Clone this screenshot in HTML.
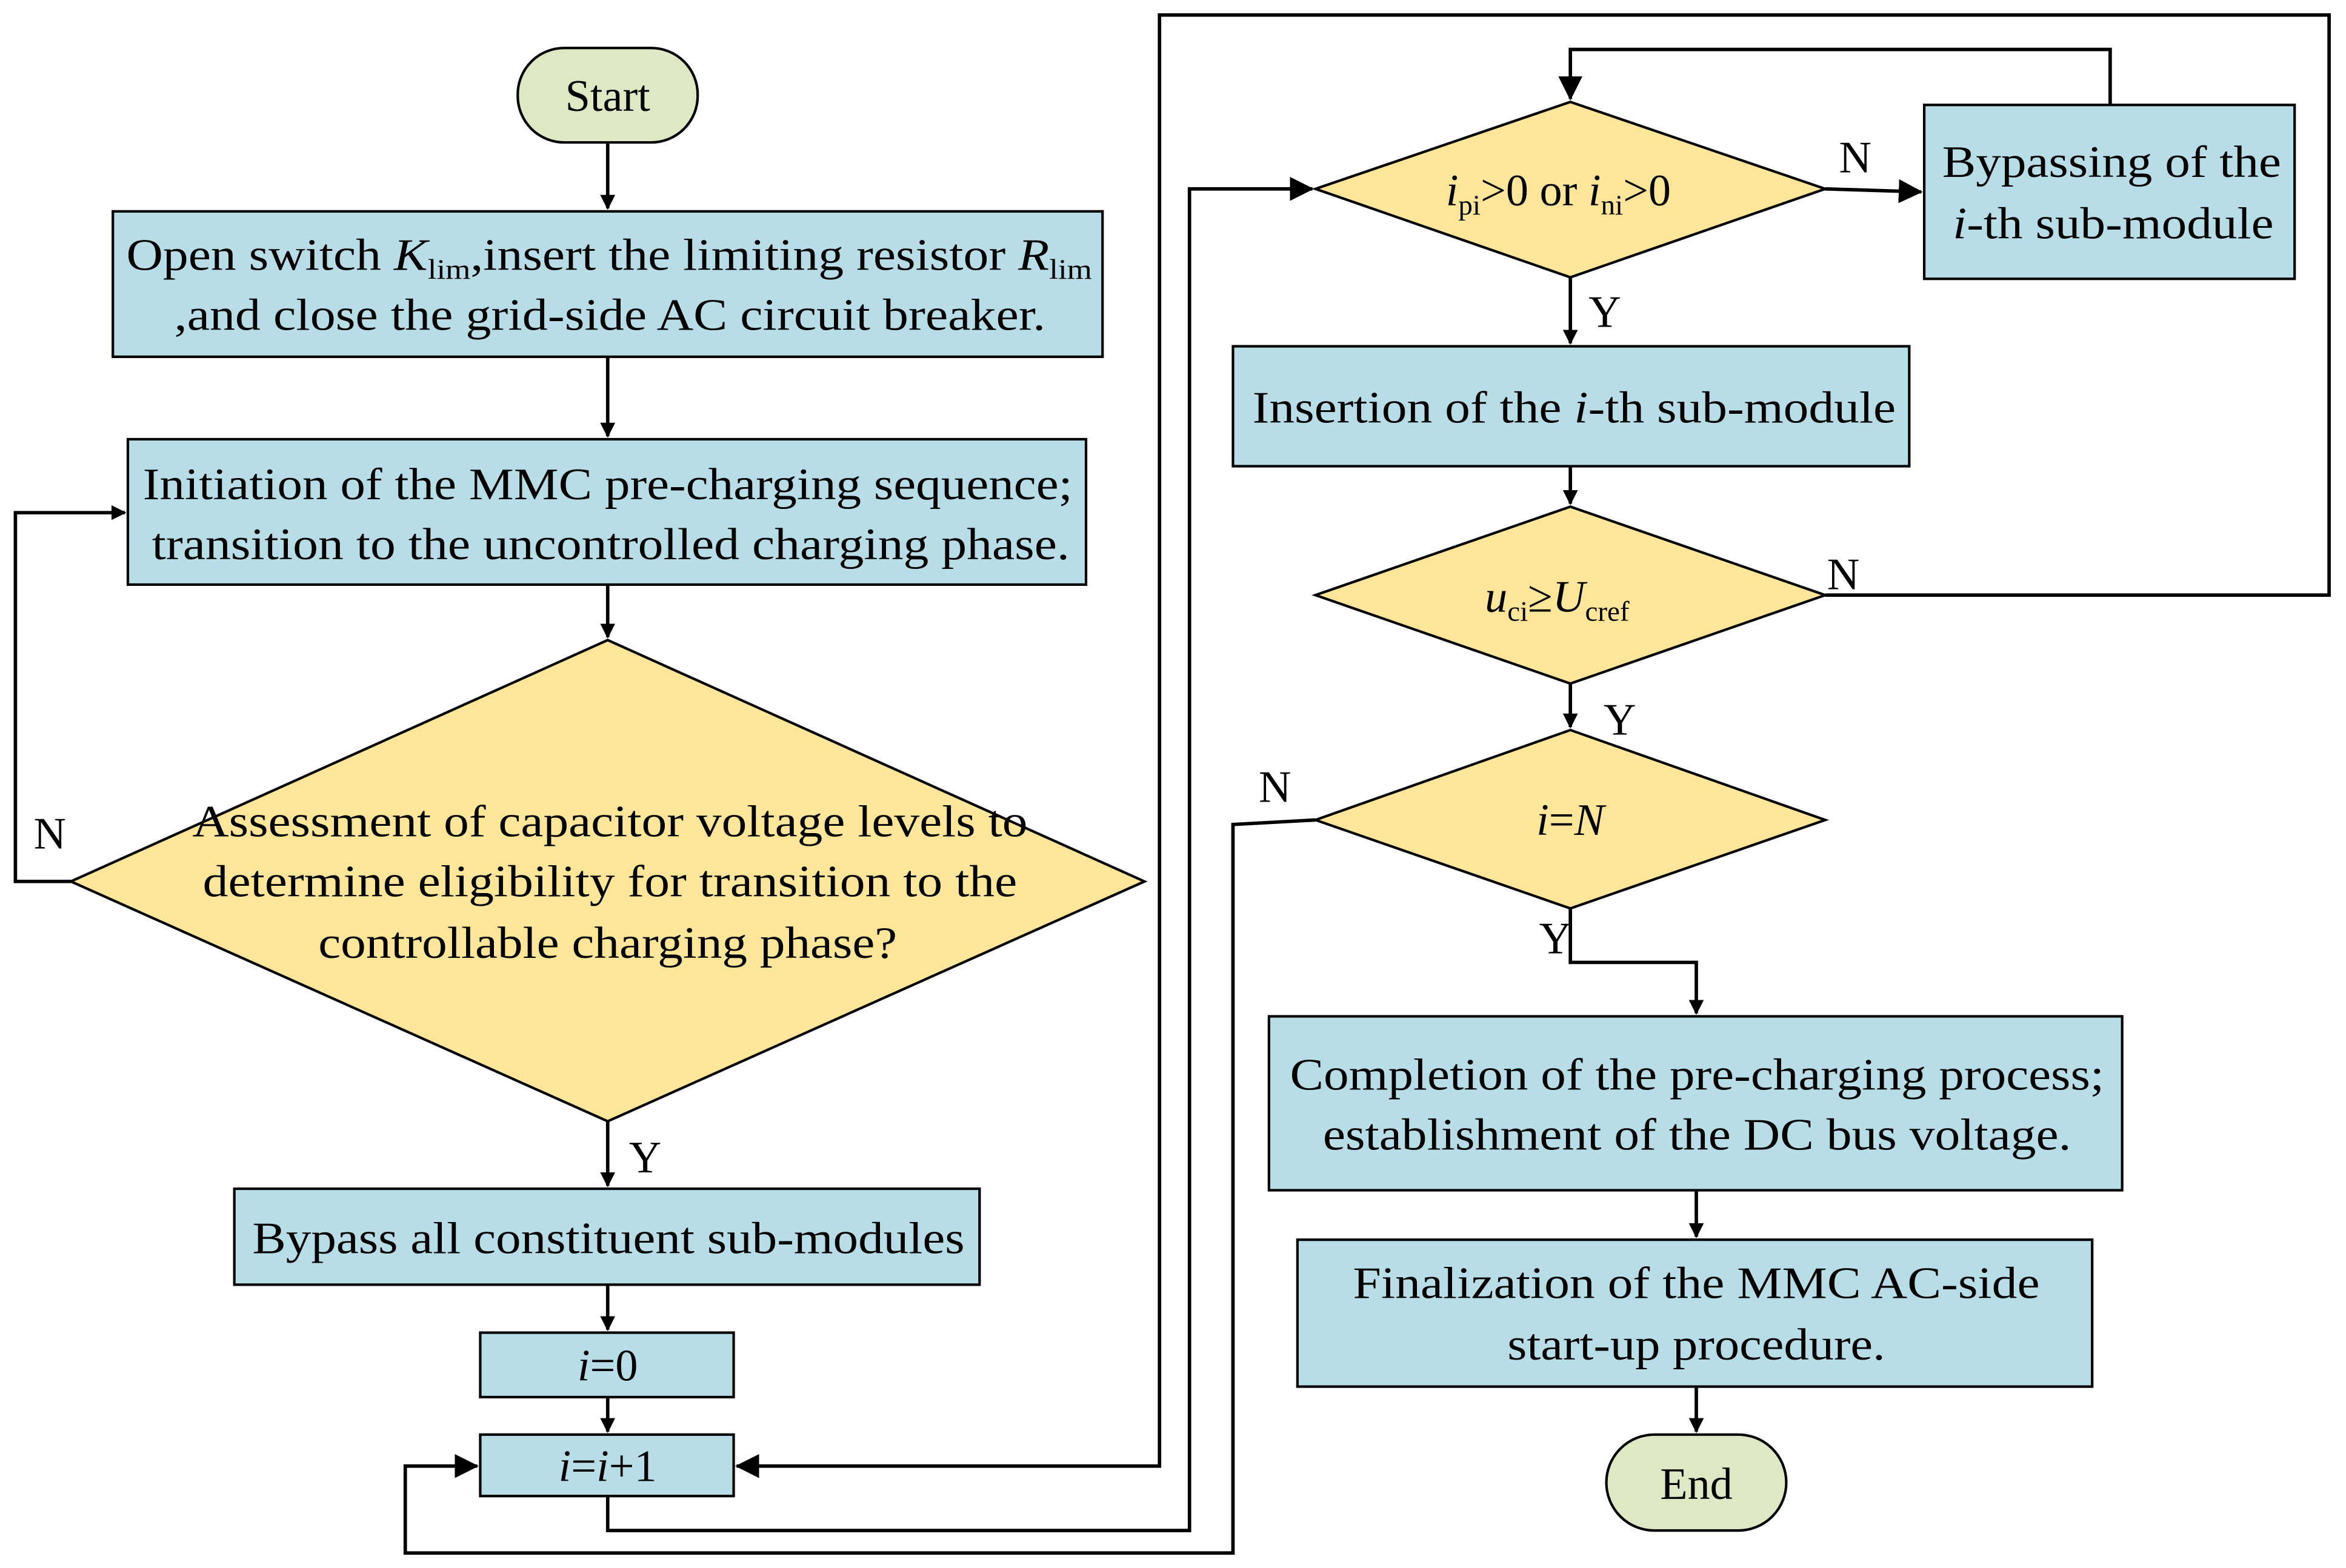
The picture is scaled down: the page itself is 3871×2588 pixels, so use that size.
<!DOCTYPE html>
<html><head><meta charset="utf-8"><style>html,body{margin:0;padding:0;background:#fff}svg{display:block}</style></head>
<body>
<svg width="3871" height="2588" viewBox="0 0 1564 1046" xmlns="http://www.w3.org/2000/svg" font-family="Liberation Serif, serif" font-size="30">
<defs><marker id="a" markerWidth="10" markerHeight="10" refX="9" refY="5" orient="auto" markerUnits="userSpaceOnUse" viewBox="0 0 10 10"><path d="M0,0 L10,5 L0,10 z" fill="#000"/></marker>
<marker id="b" markerWidth="16" markerHeight="16" refX="15" refY="8" orient="auto" markerUnits="userSpaceOnUse" viewBox="0 0 16 16"><path d="M0,0 L16,8 L0,16 z" fill="#000"/></marker></defs>
<g fill="none" stroke="#000" stroke-width="2.3">
<path d="M405 95V139" marker-end="url(#a)"/>
<path d="M405 238V291" marker-end="url(#a)"/>
<path d="M405 390V425" marker-end="url(#a)"/>
<path d="M47 588H10V342H83" marker-end="url(#a)"/>
<path d="M405 748V791" marker-end="url(#a)"/>
<path d="M405 857V887" marker-end="url(#a)"/>
<path d="M405 932V955" marker-end="url(#a)"/>
<path d="M1217 397H1553V10H773V978H491" marker-end="url(#b)"/>
<path d="M405 998V1021H793V126H875" marker-end="url(#b)"/>
<path d="M877 547L822 550V1036H270V978H318" marker-end="url(#b)"/>
<path d="M1217 126L1281 128" marker-end="url(#b)"/>
<path d="M1407 70V33H1047V66" marker-end="url(#b)"/>
<path d="M1047 185V229" marker-end="url(#a)"/>
<path d="M1047 311V336" marker-end="url(#a)"/>
<path d="M1047 456V485" marker-end="url(#a)"/>
<path d="M1047 606V642H1131V676" marker-end="url(#a)"/>
<path d="M1131 794V825" marker-end="url(#a)"/>
<path d="M1131 925V955" marker-end="url(#a)"/>
</g>
<g stroke="#000" stroke-width="1.7">
<rect x="345" y="32" width="120" height="63" rx="31" fill="#dfe8c4"/>
<rect x="1071" y="957" width="120" height="64" rx="32" fill="#dfe8c4"/>
<g fill="#b8dde6">
<rect x="75" y="141" width="660" height="97"/>
<rect x="85" y="293" width="639" height="97"/>
<rect x="156" y="793" width="497" height="64"/>
<rect x="320" y="889" width="169" height="43"/>
<rect x="320" y="957" width="169" height="41"/>
<rect x="1283" y="70" width="247" height="116"/>
<rect x="822" y="231" width="451" height="80"/>
<rect x="846" y="678" width="569" height="116"/>
<rect x="865" y="827" width="530" height="98"/>
</g>
<g fill="#fde59a">
<path d="M47 588L405 427L763 588L405 748Z"/>
<path d="M877 126L1047 68L1217 126L1047 185Z"/>
<path d="M877 397L1047 338L1217 397L1047 456Z"/>
<path d="M877 547L1047 487L1217 547L1047 606Z"/>
</g>
</g>
<g fill="#000">
<text x="405" y="74" text-anchor="middle">Start</text>
<text x="1131" y="1000" text-anchor="middle">End</text>
<text x="84" y="180" textLength="644" lengthAdjust="spacingAndGlyphs">Open switch <tspan font-style="italic">K</tspan><tspan font-size="19" dy="6">lim</tspan><tspan dy="-6">,insert the limiting resistor </tspan><tspan font-style="italic">R</tspan><tspan font-size="19" dy="6">lim</tspan></text>
<text x="116" y="220" textLength="581" lengthAdjust="spacingAndGlyphs">,and close the grid-side AC circuit breaker.</text>
<text x="95" y="333" textLength="620" lengthAdjust="spacingAndGlyphs">Initiation of the MMC pre-charging sequence;</text>
<text x="101" y="373" textLength="612" lengthAdjust="spacingAndGlyphs">transition to the uncontrolled charging phase.</text>
<text x="128" y="558" textLength="557" lengthAdjust="spacingAndGlyphs">Assessment of capacitor voltage levels to</text>
<text x="135" y="598" textLength="543" lengthAdjust="spacingAndGlyphs">determine eligibility for transition to the</text>
<text x="212" y="639" textLength="386" lengthAdjust="spacingAndGlyphs">controllable charging phase?</text>
<text x="168" y="836" textLength="475" lengthAdjust="spacingAndGlyphs">Bypass all constituent sub-modules</text>
<text x="405" y="921" text-anchor="middle"><tspan font-style="italic">i</tspan>=0</text>
<text x="405" y="988" text-anchor="middle"><tspan font-style="italic">i</tspan>=<tspan font-style="italic">i</tspan>+1</text>
<text x="33" y="566" text-anchor="middle">N</text>
<text x="430" y="782" text-anchor="middle">Y</text>
<text x="964" y="137"><tspan font-style="italic">i</tspan><tspan font-size="19" dy="6">pi</tspan><tspan dy="-6">&gt;0 or </tspan><tspan font-style="italic">i</tspan><tspan font-size="19" dy="6">ni</tspan><tspan dy="-6">&gt;0</tspan></text>
<text x="1295" y="118" textLength="226" lengthAdjust="spacingAndGlyphs">Bypassing of the</text>
<text x="1302" y="159" textLength="214" lengthAdjust="spacingAndGlyphs"><tspan font-style="italic">i</tspan>-th sub-module</text>
<text x="835" y="282" textLength="429" lengthAdjust="spacingAndGlyphs">Insertion of the <tspan font-style="italic">i</tspan>-th sub-module</text>
<text x="990" y="408"><tspan font-style="italic">u</tspan><tspan font-size="19" dy="6">ci</tspan><tspan dy="-6">≥</tspan><tspan font-style="italic">U</tspan><tspan font-size="19" dy="6">cref</tspan></text>
<text x="1047" y="557" text-anchor="middle"><tspan font-style="italic">i</tspan>=<tspan font-style="italic">N</tspan></text>
<text x="860" y="727" textLength="543" lengthAdjust="spacingAndGlyphs">Completion of the pre-charging process;</text>
<text x="882" y="767" textLength="499" lengthAdjust="spacingAndGlyphs">establishment of the DC bus voltage.</text>
<text x="902" y="866" textLength="458" lengthAdjust="spacingAndGlyphs">Finalization of the MMC AC-side</text>
<text x="1005" y="907" textLength="252" lengthAdjust="spacingAndGlyphs">start-up procedure.</text>
<text x="1237" y="115" text-anchor="middle">N</text>
<text x="1070" y="218" text-anchor="middle">Y</text>
<text x="1229" y="393" text-anchor="middle">N</text>
<text x="1080" y="490" text-anchor="middle">Y</text>
<text x="850" y="535" text-anchor="middle">N</text>
<text x="1037" y="636" text-anchor="middle">Y</text>
</g>
</svg>
</body></html>
